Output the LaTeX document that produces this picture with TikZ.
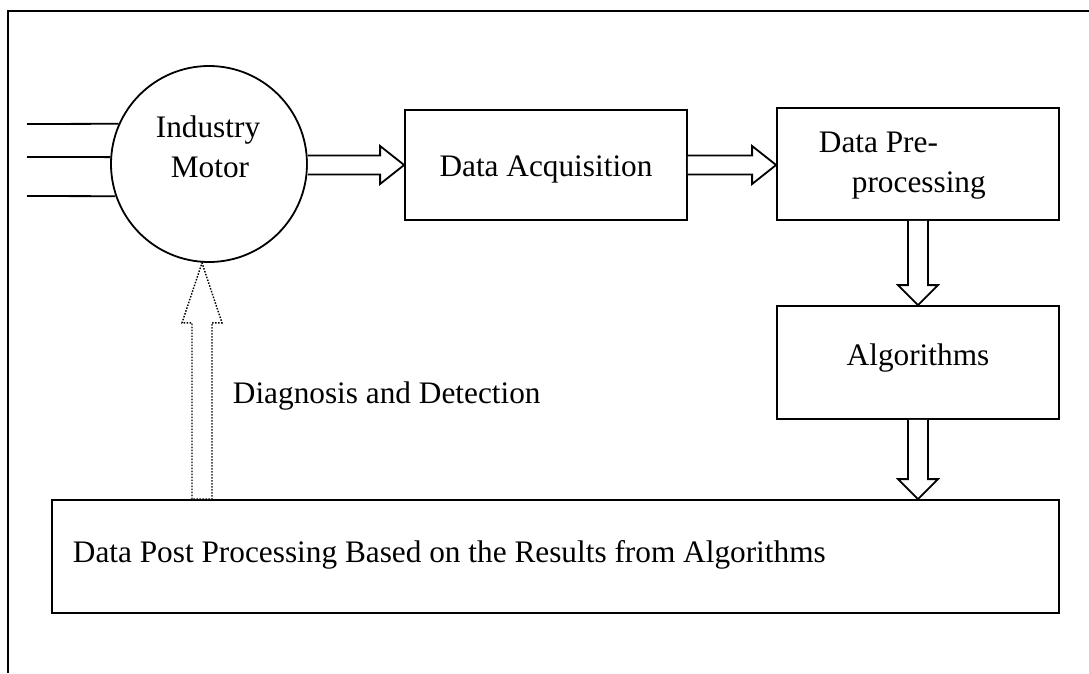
\documentclass[tikz,border=0pt]{standalone}
\usepackage{fontspec}
\setmainfont{Liberation Serif}
\usetikzlibrary{calc}
\begin{document}
\begin{tikzpicture}[x=1pt,y=-1pt,line width=1.8pt,
  box/.style={draw,rectangle,inner sep=0pt},
  lbl/.style={font=\fontsize{31.3}{37}\selectfont,inner sep=0pt},
  arr/.style={draw,fill=white,line width=1.8pt,line join=miter},
  darr/.style={draw,fill=white,line width=1.4pt,dash pattern=on 1.5pt off 1.5pt}]
\useasboundingbox (0,0) rectangle (1089,673);
\fill[white] (0,0) rectangle (1089,673);
\draw (8,673) -- (8,11) -- (1089,11);
% nodes
\node[draw,circle,minimum size=196pt,inner sep=0pt] (motor) at (209,164) {};
\node[box,minimum width=282pt,minimum height=110pt] (da) at (546,165) {};
\node[box,minimum width=282pt,minimum height=112pt] (pre) at (918,164) {};
\node[box,minimum width=282pt,minimum height=113pt] (alg) at (918,362.5) {};
\node[box,minimum width=1007pt,minimum height=113pt] (post) at (555.5,556.5) {};
% labels
\node[lbl,anchor=base] (tind) at (208,137) {Industry};
\node[lbl,anchor=base] (tmot) at (210,177) {Motor};
\node[lbl,anchor=base] (tda) at (546,176) {Data Acquisition};
\node[lbl,anchor=base west] (tpre1) at (818,152) {Data Pre-};
\node[lbl,anchor=base west] (tpre2) at (851,192) {processing};
\node[lbl,anchor=base] (talg) at (918,365) {Algorithms};
\node[lbl,anchor=base west] (tpost) at (72,562) {Data Post Processing Based on the Results from Algorithms};
\node[lbl,anchor=base west] (tdiag) at (232,403) {Diagnosis and Detection};
% input wires
\coordinate (w1) at (27,124);
\coordinate (w2) at (27,157);
\coordinate (w3) at (27,196);
\draw (w1) -- (motor.156);
\draw (w2) -- (motor.176);
\draw (w3) -- (motor.199);
% horizontal block arrows
\draw[arr] let \p1=(motor.east |- da.west), \p2=(da.west) in
  (\x1,\y1+9.5pt) -- (\x2-24pt,\y1+9.5pt) -- (\x2-24pt,\y1+19pt) -- (\p2)
  -- (\x2-24pt,\y1-19pt) -- (\x2-24pt,\y1-9.5pt) -- (\x1,\y1-9.5pt);
\draw[arr] let \p1=(da.east), \p2=(pre.west |- da.east) in
  (\x1,\y1+9.5pt) -- (\x2-24pt,\y1+9.5pt) -- (\x2-24pt,\y1+19pt) -- (\p2)
  -- (\x2-24pt,\y1-19pt) -- (\x2-24pt,\y1-9.5pt) -- (\x1,\y1-9.5pt);
% vertical block arrows
\draw[arr] let \p1=(pre.south), \p2=(alg.north) in
  (\x1-10pt,\y1) -- (\x1-10pt,\y2+20pt) -- (\x1-20pt,\y2+20pt) -- (\p2)
  -- (\x1+20pt,\y2+20pt) -- (\x1+10pt,\y2+20pt) -- (\x1+10pt,\y1);
\draw[arr] let \p1=(alg.south), \p2=(alg.south |- post.north) in
  (\x1-10pt,\y1) -- (\x1-10pt,\y2+20pt) -- (\x1-20pt,\y2+20pt) -- (\p2)
  -- (\x1+20pt,\y2+20pt) -- (\x1+10pt,\y2+20pt) -- (\x1+10pt,\y1);
% dotted feedback arrow
\draw[darr] let \p1=($(motor.south)+(-7,0)$), \p2=(\p1 |- post.north) in
  (\x1-10pt,\y2) -- (\x1-10pt,\y1-60pt) -- (\x1-20pt,\y1-60pt) -- (\x1,\y1)
  -- (\x1+20pt,\y1-60pt) -- (\x1+10pt,\y1-60pt) -- (\x1+10pt,\y2) -- cycle;
\end{tikzpicture}
\end{document}
